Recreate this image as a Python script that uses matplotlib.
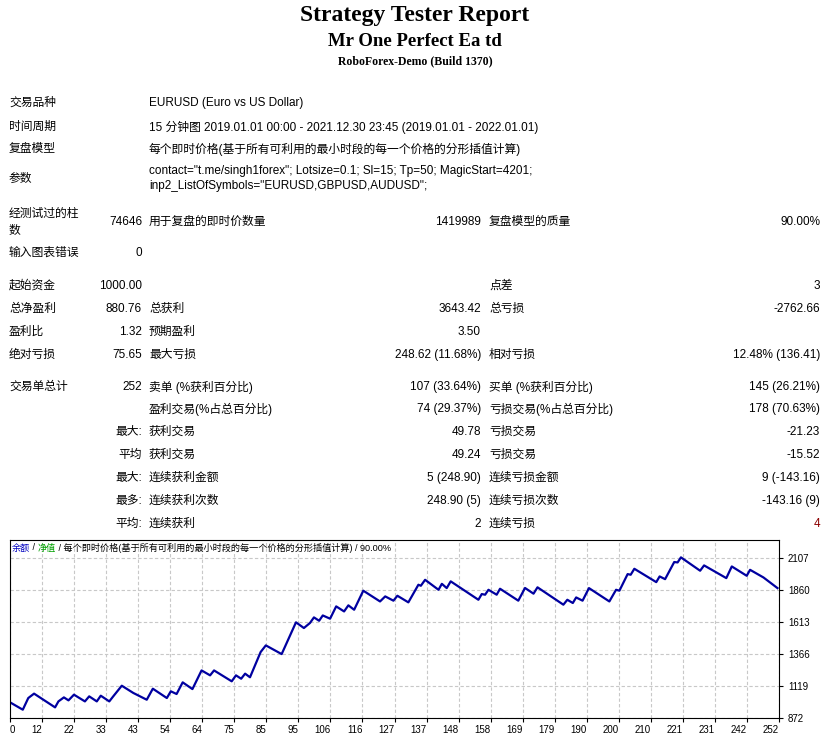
import matplotlib
matplotlib.use("Agg")
import matplotlib.pyplot as plt

plt.rcParams['font.family'] = ['Liberation Sans', 'Noto Sans CJK SC']

W, H = 830, 739

# ---- data ----
trade_idx = [0, 4.2, 6, 7.9, 14.8, 15.9, 17.7, 19.2, 21, 24.6, 26, 28.5, 29.8, 32.6, 33.9, 36.7,
             40.5, 44.9, 46.9, 51.5, 52.8, 54.7, 56.7, 59.9, 62.9, 65.7, 67, 72.8, 74.2, 75.9,
             77.2, 78.8, 82.3, 84, 89.2, 93.9, 96.5, 98.5, 99.8, 101.5, 102.7, 105.1, 107.1,
             109.7, 111.1, 113, 116, 121.5, 123.2, 125.9, 127.2, 130.8, 134.1, 134.9, 136.3,
             140.7, 141.8, 143.4, 144.7, 153.8, 154.9, 156, 157.1, 159.8, 160.9, 166.9, 169.1,
             171.9, 173.2, 181.7, 183, 184.8, 185.9, 188, 190.1, 196.8, 199, 200.1, 202.8,
             203.8, 205, 212.2, 213.3, 215.1, 218.1, 219.2, 220.3, 226.6, 227.9, 235.2, 237,
             241.9, 243, 247.4, 252]
balance = [993, 936, 1026, 1060, 954, 1000, 1031, 1008, 1052, 1000, 1039, 1000, 1044, 1000, 1039, 1121,
           1065, 1013, 1098, 1026, 1078, 1057, 1147, 1095, 1239, 1201, 1239, 1155, 1201, 1175,
           1214, 1186, 1381, 1432, 1365, 1610, 1566, 1605, 1648, 1622, 1663, 1638, 1733,
           1694, 1741, 1707, 1854, 1771, 1810, 1777, 1815, 1764, 1900, 1892, 1938,
           1861, 1907, 1874, 1926, 1784, 1828, 1823, 1861, 1823, 1869, 1777, 1875,
           1831, 1880, 1746, 1784, 1759, 1802, 1777, 1874, 1771, 1861, 1854, 1982,
           1977, 2023, 1920, 1964, 1943, 2075, 2072, 2111, 2008, 2049, 1951, 2041,
           1969, 2015, 1956, 1874]
x_labels = ['0', '12', '22', '33', '43', '54', '64', '75', '85', '95', '106', '116', '127', '137',
            '148', '158', '169', '179', '190', '200', '210', '221', '231', '242', '252']
y_ticks = [872, 1119, 1366, 1613, 1860, 2107]

header_rows = [
    (103, '交易品种', 'EURUSD (Euro vs US Dollar)'),
    (127, '时间周期', '15 分钟图 2019.01.01 00:00 - 2021.12.30 23:45 (2019.01.01 - 2022.01.01)'),
    (149, '复盘模型', '每个即时价格(基于所有可利用的最小时段的每一个价格的分形插值计算)'),
]
params = ['contact="t.me/singh1forex"; Lotsize=0.1; Sl=15; Tp=50; MagicStart=4201;',
          'inp2_ListOfSymbols="EURUSD,GBPUSD,AUDUSD";']

stat_rows = [
    (222, None, '74646', '用于复盘的即时价数量', '1419989', '复盘模型的质量', '90.00%'),
    (253, '输入图表错误', '0', None, None, None, None),
    (286, '起始资金', '1000.00', None, None, '点差', '3'),
    (309, '总净盈利', '880.76', '总获利', '3643.42', '总亏损', '-2762.66'),
    (332, '盈利比', '1.32', '预期盈利', '3.50', None, None),
    (355, '绝对亏损', '75.65', '最大亏损', '248.62 (11.68%)', '相对亏损', '12.48% (136.41)'),
    (387, '交易单总计', '252', '卖单 (%获利百分比)', '107 (33.64%)', '买单 (%获利百分比)', '145 (26.21%)'),
    (409, None, None, '盈利交易(%占总百分比)', '74 (29.37%)', '亏损交易(%占总百分比)', '178 (70.63%)'),
    (432, None, '最大:', '获利交易', '49.78', '亏损交易', '-21.23'),
    (455, None, '平均', '获利交易', '49.24', '亏损交易', '-15.52'),
    (478, None, '最大:', '连续获利金额', '5 (248.90)', '连续亏损金额', '9 (-143.16)'),
    (501, None, '最多:', '连续获利次数', '248.90 (5)', '连续亏损次数', '-143.16 (9)'),
    (524, None, '平均:', '连续获利', '2', '连续亏损', '4'),
]

fig = plt.figure(figsize=(W / 100, H / 100), dpi=100)
fig.patch.set_facecolor('white')

def T(x, y, s, ha='left', size=8.5, **kw):
    fig.text(x / W, 1 - y / H, s, ha=ha, va='center', fontsize=size, **kw)

T(415, 15, 'Strategy Tester Report', ha='center', size=17, weight='bold', family=['Liberation Serif'])
T(415, 42, 'Mr One Perfect Ea td', ha='center', size=13.5, weight='bold', family=['Liberation Serif'])
T(415, 61, 'RoboForex-Demo (Build 1370)', ha='center', size=8.5, weight='bold', family=['Liberation Serif'])

for y, a, b in header_rows:
    T(9, y, a)
    T(149, y, b)
T(9, 179, '参数')
T(149, 171, params[0])
T(149, 186, params[1])
T(9, 214, '经测试过的柱')
T(9, 231, '数')

for y, l1, v1, l2, v2, l3, v3 in stat_rows:
    if l1: T(9, y, l1)
    if v1: T(142, y, v1, ha='right')
    if l2: T(149, y, l2)
    if v2: T(481, y, v2, ha='right')
    if l3: T(489, y, l3)
    if v3: T(820, y, v3, ha='right', color='#8b0000' if v3 == '4' else 'black')

# ---- chart ----
L, R, TOP, BOT = 10, 779, 540, 718
ax = fig.add_axes([L / W, 1 - BOT / H, (R - L) / W, (BOT - TOP) / H])
xmax = 252.5
ax.set_xlim(0, xmax)
ax.set_ylim(872, 2245)
ax.plot(trade_idx, balance, color='#0000a0', lw=1.6)
xt = [k * xmax / 24 for k in range(25)]
ax.set_xticks(xt)
ax.set_xticklabels(x_labels, fontsize=7)
for i, lab in enumerate(ax.get_xticklabels()):
    lab.set_ha('left' if i == 0 else 'right')
ax.set_yticks(y_ticks)
ax.yaxis.tick_right()
ax.tick_params(axis='y', labelsize=7, length=3)
ax.tick_params(axis='x', length=3, pad=2)
ax.grid(True, color='#c8c8c8', linestyle=(0, (3, 2)), lw=0.8)
for s in ax.spines.values():
    s.set_color('black')

parts = [('余额', '#0000c0'), (' / ', 'black'), ('净值', '#00a000'),
         (' / 每个即时价格(基于所有可利用的最小时段的每一个价格的分形插值计算) / 90.00%', 'black')]
fig.canvas.draw()
r = fig.canvas.get_renderer()
xp = 12
for s, c in parts:
    t = fig.text(xp / W, 1 - 548 / H, s, fontsize=6.6, color=c, va='center', ha='left')
    bb = t.get_window_extent(r)
    xp += bb.width

fig.savefig('out.png', dpi=100, facecolor='white')
